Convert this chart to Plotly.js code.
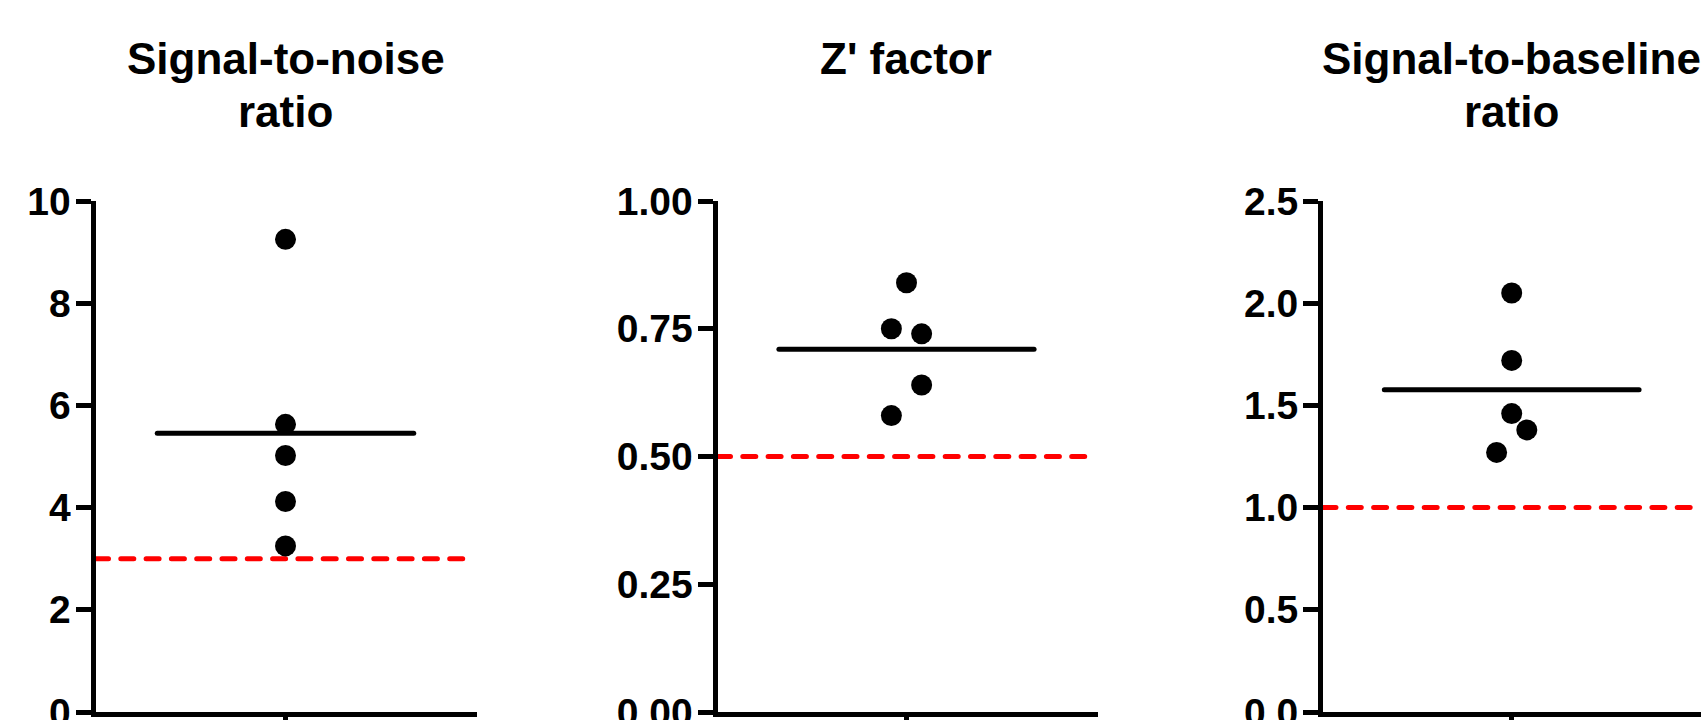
<!DOCTYPE html>
<html>
<head>
<meta charset="utf-8">
<script src="https://cdn.plot.ly/plotly-3.0.1.min.js"></script>
<style>
  html, body { margin: 0; padding: 0; background: #ffffff; }
  #chart { width: 1701px; height: 720px; }
  #chart .scatterlayer .js-line { stroke-linecap: round !important; }
</style>
</head>
<body>
<div id="chart"></div>
<script>
// ---- Data ----
const panelTitles = [["Signal-to-noise", "ratio"], ["Z' factor"], ["Signal-to-baseline", "ratio"]];

const snrValues = [9.25, 5.63, 5.02, 4.12, 3.25];
const snrX = [0, 0, 0, 0, 0];
const snrThreshold = 3;
const snrTickVals = [0, 2, 4, 6, 8, 10];
const snrTickText = ["0", "2", "4", "6", "8", "10"];

const zValues = [0.84, 0.75, 0.74, 0.64, 0.58];
const zX = [0, -0.08, 0.08, 0.08, -0.08];
const zThreshold = 0.5;
const zTickVals = [0, 0.25, 0.5, 0.75, 1.0];
const zTickText = ["0.00", "0.25", "0.50", "0.75", "1.00"];

const sbValues = [2.05, 1.72, 1.46, 1.38, 1.27];
const sbX = [0, 0, 0, 0.08, -0.08];
const sbThreshold = 1.0;
const sbTickVals = [0, 0.5, 1.0, 1.5, 2.0, 2.5];
const sbTickText = ["0.0", "0.5", "1.0", "1.5", "2.0", "2.5"];

// ---- Build ----
const W = 1701, H = 720;
const mean = a => a.reduce((s, v) => s + v, 0) / a.length;

// pixel layout of each panel: a = plot left, b = plot right, c = category centre
const panels = [
  { vals: snrValues, xs: snrX, thr: snrThreshold, tv: snrTickVals, tt: snrTickText, yr: [0, 10],  a: 95.5,  b: 477,  c: 285.5,  redEnd: 0.97 },
  { vals: zValues,   xs: zX,   thr: zThreshold,   tv: zTickVals,   tt: zTickText,   yr: [0, 1],   a: 717.5, b: 1098, c: 906.5,  redEnd: 0.98 },
  { vals: sbValues,  xs: sbX,  thr: sbThreshold,  tv: sbTickVals,  tt: sbTickText,  yr: [0, 2.5], a: 1323,  b: 1701, c: 1511.7, redEnd: 0.965 }
];

const yDom = [(H - 712) / H, (H - 201) / H];
const tickFont = { family: "Liberation Sans, Arial, sans-serif", size: 39, color: "#000", weight: "bold" };
const titleFont = { family: "Liberation Sans, Arial, sans-serif", size: 44, color: "#000", weight: "bold" };

const traces = [];
const layout = {
  width: W, height: H,
  margin: { l: 0, r: 0, t: 0, b: 0, pad: 0 },
  paper_bgcolor: "#ffffff",
  plot_bgcolor: "#ffffff",
  showlegend: false,
  annotations: []
};

panels.forEach((p, i) => {
  const n = i === 0 ? "" : String(i + 1);
  const xa = "x" + n, ya = "y" + n;
  const m = mean(p.vals);
  const u = p.c - p.a;                // pixels per x unit
  const xr = [-1, (p.b - p.c) / u];

  // red dashed threshold line
  traces.push({
    type: "scatter", mode: "lines", xaxis: xa, yaxis: ya,
    x: [-1, p.redEnd], y: [p.thr, p.thr],
    line: { color: "#ff0000", width: 5, dash: "13px,12.3px" },
    hoverinfo: "skip", cliponaxis: false
  });
  // mean line
  traces.push({
    type: "scatter", mode: "lines", xaxis: xa, yaxis: ya,
    x: [-0.675, 0.675], y: [m, m],
    line: { color: "#000000", width: 5 },
    hoverinfo: "skip", cliponaxis: false
  });
  // points
  traces.push({
    type: "scatter", mode: "markers", xaxis: xa, yaxis: ya,
    x: p.xs, y: p.vals,
    marker: { color: "#000000", size: 21, line: { width: 0 } },
    cliponaxis: false
  });

  layout["xaxis" + n] = {
    domain: [p.a / W, p.b / W],
    range: xr, anchor: ya,
    showgrid: false, zeroline: false,
    showline: true, linecolor: "#000", linewidth: 5,
    ticks: "outside", ticklen: 15, tickwidth: 5, tickcolor: "#000",
    tickvals: [0], ticktext: [""], showticklabels: false,
    fixedrange: true
  };
  layout["yaxis" + n] = {
    domain: yDom, range: p.yr, anchor: xa,
    showgrid: false, zeroline: false,
    showline: true, linecolor: "#000", linewidth: 5,
    ticks: "outside", ticklen: 15, tickwidth: 5, tickcolor: "#000",
    tickvals: p.tv, ticktext: p.tt, tickfont: tickFont,
    ticklabeloverflow: "allow", ticklabelstandoff: -3,
    fixedrange: true
  };

  panelTitles[i].forEach((line, k) => {
    layout.annotations.push({
      xref: "paper", yref: "paper",
      x: p.c / W, y: 1 - (32 + 53 * k) / H,
      xanchor: "center", yanchor: "top",
      text: line, showarrow: false,
      font: titleFont, align: "center"
    });
  });
});

Plotly.newPlot("chart", traces, layout, { displayModeBar: false, staticPlot: true });
</script>
</body>
</html>
